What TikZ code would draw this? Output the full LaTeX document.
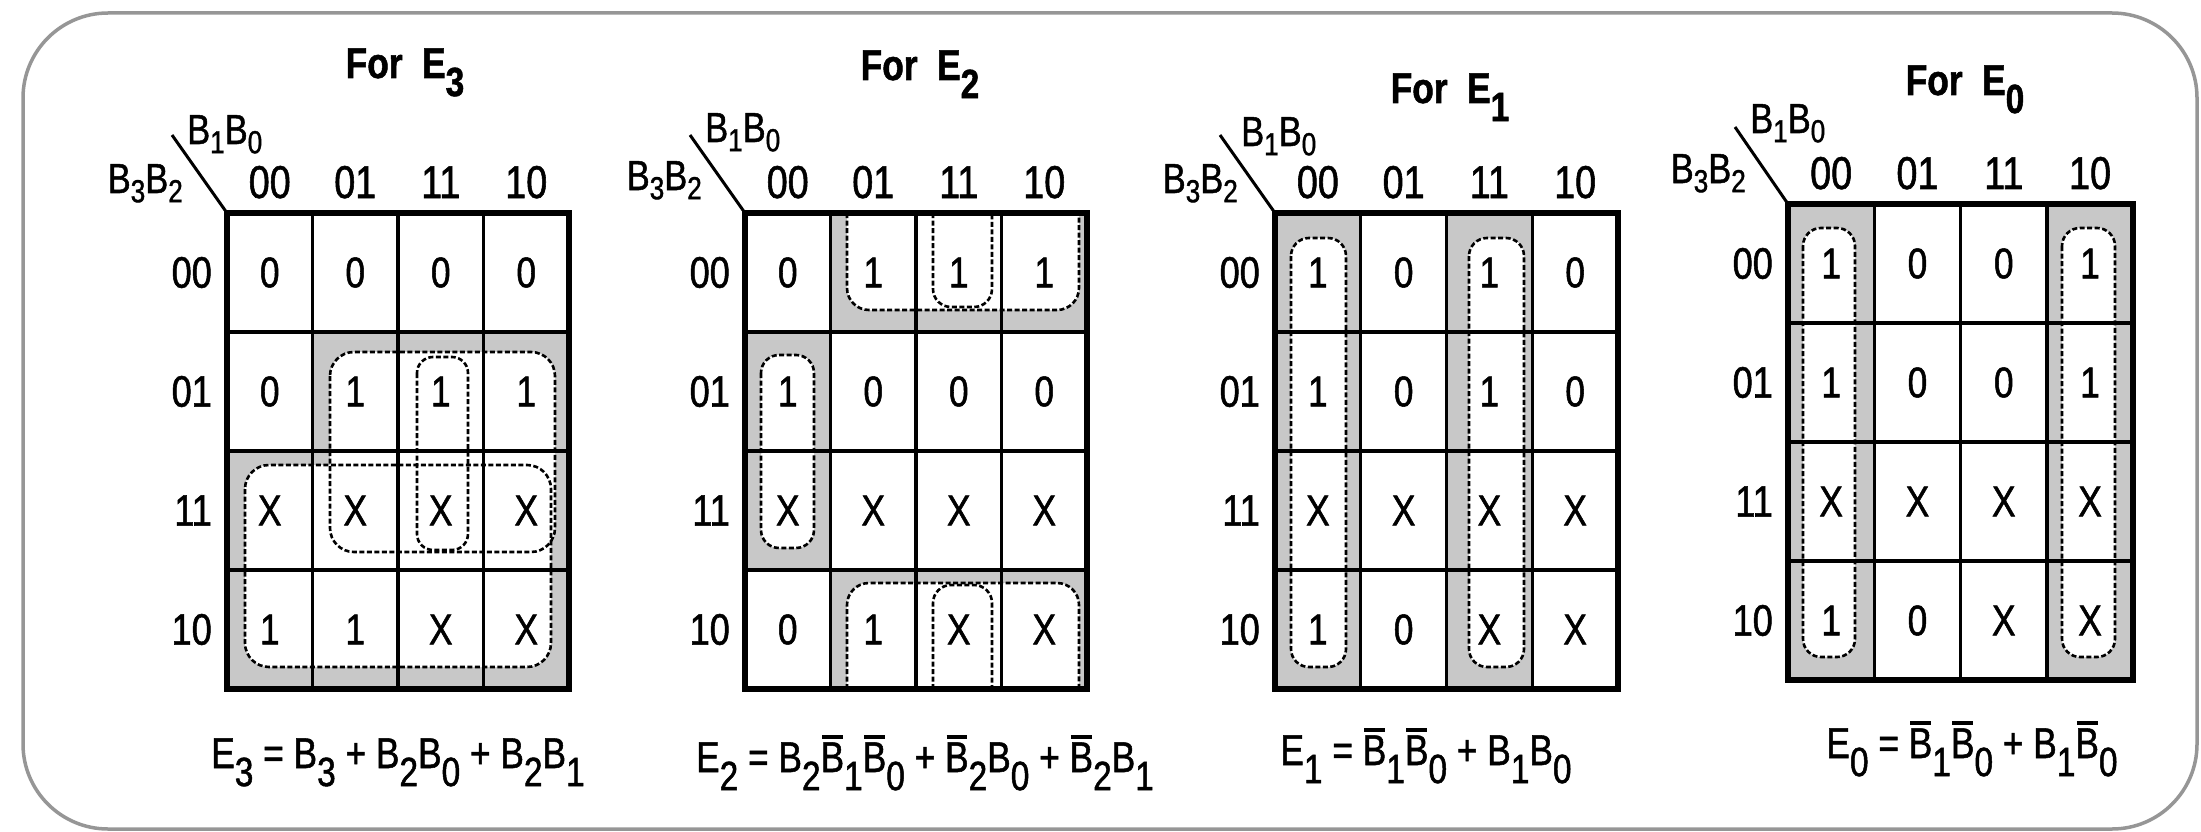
\documentclass[tikz,border=0pt]{standalone}
\usepackage{graphicx}
\usepackage{fontspec}
\setmainfont{Liberation Sans}[FakeStretch=0.82,FakeBold=1.2]
\definecolor{kgray}{RGB}{200,200,200}
\definecolor{framec}{RGB}{150,150,150}
% small subscripts (axis labels)
\newcommand\ksub[1]{\raisebox{-0.22em}{\scalebox{0.76}{#1}}}
% large subscripts (titles and equations)
\newcommand\esub[1]{\raisebox{-0.42em}{\scalebox{0.95}{#1}}}
\newcommand\barB{\leavevmode\setbox0\hbox{B}\hbox to\wd0{\rlap{\kern0.06\wd0\rule[1.12\ht0]{0.88\wd0}{0.13\ht0}}B\hss}}
\newcommand\fcell{\fontsize{43}{50}\selectfont}
\newcommand\frow{\fontsize{44}{50}\selectfont}
\newcommand\fcol{\fontsize{46}{52}\selectfont}
\newcommand\fax{\fontsize{42}{48}\selectfont}
\newcommand\fttl{\fontsize{43}{48}\selectfont\bfseries}
\newcommand\feq{\fontsize{43}{50}\selectfont}
\tikzset{
  cellval/.style={font=\fcell, inner sep=0pt},
  rowlab/.style={font=\frow, inner sep=0pt, anchor=east},
  collab/.style={font=\fcol, inner sep=0pt, anchor=base},
  axlab/.style={font=\fax, inner sep=0pt},
  ttl/.style={font=\fttl, inner sep=0pt, anchor=base},
  eqn/.style={font=\feq, inner sep=0pt, anchor=base},
  gridin/.style={line width=3.2pt},
  gridout/.style={line width=6pt},
  diagline/.style={line width=3pt},
  loopline/.style={line width=2.6pt, dash pattern=on 5pt off 2.5pt},
  cellgray/.style={fill=kgray},
  loopfill/.style={fill=white},
  outerframe/.style={draw=framec, line width=3.5pt, rounded corners=85pt}
}
\newcommand\KGrid[4]{%
  \foreach \kk in {1,2,3} {
    \draw[gridin] ({\kk*#2},0) -- ({\kk*#2},{4*#3});
    \draw[gridin] (0,{\kk*#3}) -- ({4*#2},{\kk*#3});
  }
  \draw[gridout] (0,0) rectangle ({4*#2},{4*#3});
  \foreach \v [count=\ki from 0] in {#4} {
    \pgfmathtruncatemacro\kr{\ki/4}
    \pgfmathtruncatemacro\kc{mod(\ki,4)}
    \node[cellval] (#1v\kr\kc) at ({(\kc+0.5)*#2},{(\kr+0.5)*#3}) {\v};
  }
  \foreach \lab [count=\ki from 0] in {00,01,11,10} {
    \node[rowlab] (#1r\ki) at (-15,{(\ki+0.5)*#3}) {\lab};
    \node[collab] (#1c\ki) at ({(\ki+0.5)*#2},-15) {\lab};
  }
  \coordinate (#1corner) at (0,0);
}
\begin{document}
\begin{tikzpicture}[x=1pt,y=-1pt]
\useasboundingbox (0,0) rectangle (2201,832);
\draw[outerframe] (23,13) rectangle (2197,829);

% ---------------- E3 ----------------
\begin{scope}[shift={(227,213)}]
  \fill[cellgray] (85.5,119) rectangle (342,238);
  \fill[cellgray] (0,238) rectangle (342,476);
  \fill[loopfill, rounded corners=24] (18,252) rectangle (324,454);
  \fill[loopfill, rounded corners=24] (103,139) rectangle (328,339);
  \KGrid{E3}{85.5}{119}{0,0,0,0, 0,1,1,1, X,X,X,X, 1,1,X,X}
  \draw[loopline, rounded corners=24] (18,252) rectangle (324,454);
  \draw[loopline, rounded corners=24] (103,139) rectangle (328,339);
  \draw[loopline, rounded corners=16] (190,144) rectangle (241,337);
\end{scope}
\coordinate (E3diag) at (172,135);
\draw[diagline] (E3diag) -- (E3corner);
\node[axlab, anchor=base west] (E3top) at (187,144) {B\ksub{1}B\ksub{0}};
\node[axlab, anchor=base east] (E3side) at (183,193) {B\ksub{3}B\ksub{2}};
\node[ttl] (E3title) at (405,78) {For\ \ E\esub{3}};
\node[eqn] (E3eq) at (398,768) {E\esub{3} = B\esub{3} + B\esub{2}B\esub{0} + B\esub{2}B\esub{1}};

% ---------------- E2 ----------------
\begin{scope}[shift={(745,213)}]
  \fill[cellgray] (85.5,0) rectangle (342,119);
  \fill[cellgray] (0,119) rectangle (85.5,357);
  \fill[cellgray] (85.5,357) rectangle (342,476);
  \fill[loopfill, rounded corners=22] (102,-40) -- (102,97) -- (334,97) -- (334,-40) -- cycle;
  \fill[loopfill, rounded corners=22] (102,516) -- (102,370) -- (334,370) -- (334,516) -- cycle;
  \fill[loopfill, rounded corners=18] (16,142) rectangle (69,335);
  \KGrid{E2}{85.5}{119}{0,1,1,1, 1,0,0,0, X,X,X,X, 0,1,X,X}
  \draw[loopline, rounded corners=22] (102,0) -- (102,97) -- (334,97) -- (334,0);
  \draw[loopline, rounded corners=18] (188,0) -- (188,94) -- (247,94) -- (247,0);
  \draw[loopline, rounded corners=22] (102,476) -- (102,370) -- (334,370) -- (334,476);
  \draw[loopline, rounded corners=18] (188,476) -- (188,372) -- (247,372) -- (247,476);
  \draw[loopline, rounded corners=18] (16,142) rectangle (69,335);
\end{scope}
\coordinate (E2diag) at (690,135);
\draw[diagline] (E2diag) -- (E2corner);
\node[axlab, anchor=base west] (E2top) at (705,142) {B\ksub{1}B\ksub{0}};
\node[axlab, anchor=base east] (E2side) at (702,190) {B\ksub{3}B\ksub{2}};
\node[ttl] (E2title) at (920,80) {For\ \ E\esub{2}};
\node[eqn] (E2eq) at (925,772) {E\esub{2} = B\esub{2}\barB\esub{1}\barB\esub{0} + \barB\esub{2}B\esub{0} + \barB\esub{2}B\esub{1}};

% ---------------- E1 ----------------
\begin{scope}[shift={(1275,213)}]
  \fill[cellgray] (0,0) rectangle (85.75,476);
  \fill[cellgray] (171.5,0) rectangle (257.25,476);
  \fill[loopfill, rounded corners=18] (16,25) rectangle (71,454);
  \fill[loopfill, rounded corners=18] (194,25) rectangle (249,454);
  \KGrid{E1}{85.75}{119}{1,0,1,0, 1,0,1,0, X,X,X,X, 1,0,X,X}
  \draw[loopline, rounded corners=18] (16,25) rectangle (71,454);
  \draw[loopline, rounded corners=18] (194,25) rectangle (249,454);
\end{scope}
\coordinate (E1diag) at (1220,135);
\draw[diagline] (E1diag) -- (E1corner);
\node[axlab, anchor=base west] (E1top) at (1241,146) {B\ksub{1}B\ksub{0}};
\node[axlab, anchor=base east] (E1side) at (1238,193) {B\ksub{3}B\ksub{2}};
\node[ttl] (E1title) at (1450,103) {For\ \ E\esub{1}};
\node[eqn] (E1eq) at (1426,765) {E\esub{1} = \barB\esub{1}\barB\esub{0} + B\esub{1}B\esub{0}};

% ---------------- E0 ----------------
\begin{scope}[shift={(1788,204)}]
  \fill[cellgray] (0,0) rectangle (86.3,476);
  \fill[cellgray] (258.9,0) rectangle (345.2,476);
  \fill[loopfill, rounded corners=18] (15,24) rectangle (67,453);
  \fill[loopfill, rounded corners=18] (274,24) rectangle (327,453);
  \KGrid{E0}{86.3}{119}{1,0,0,1, 1,0,0,1, X,X,X,X, 1,0,X,X}
  \draw[loopline, rounded corners=18] (15,24) rectangle (67,453);
  \draw[loopline, rounded corners=18] (274,24) rectangle (327,453);
\end{scope}
\coordinate (E0diag) at (1735,127);
\draw[diagline] (E0diag) -- (E0corner);
\node[axlab, anchor=base west] (E0top) at (1750,133) {B\ksub{1}B\ksub{0}};
\node[axlab, anchor=base east] (E0side) at (1746,183) {B\ksub{3}B\ksub{2}};
\node[ttl] (E0title) at (1965,95) {For\ \ E\esub{0}};
\node[eqn] (E0eq) at (1972,758) {E\esub{0} = \barB\esub{1}\barB\esub{0} + B\esub{1}\barB\esub{0}};
\end{tikzpicture}
\end{document}
